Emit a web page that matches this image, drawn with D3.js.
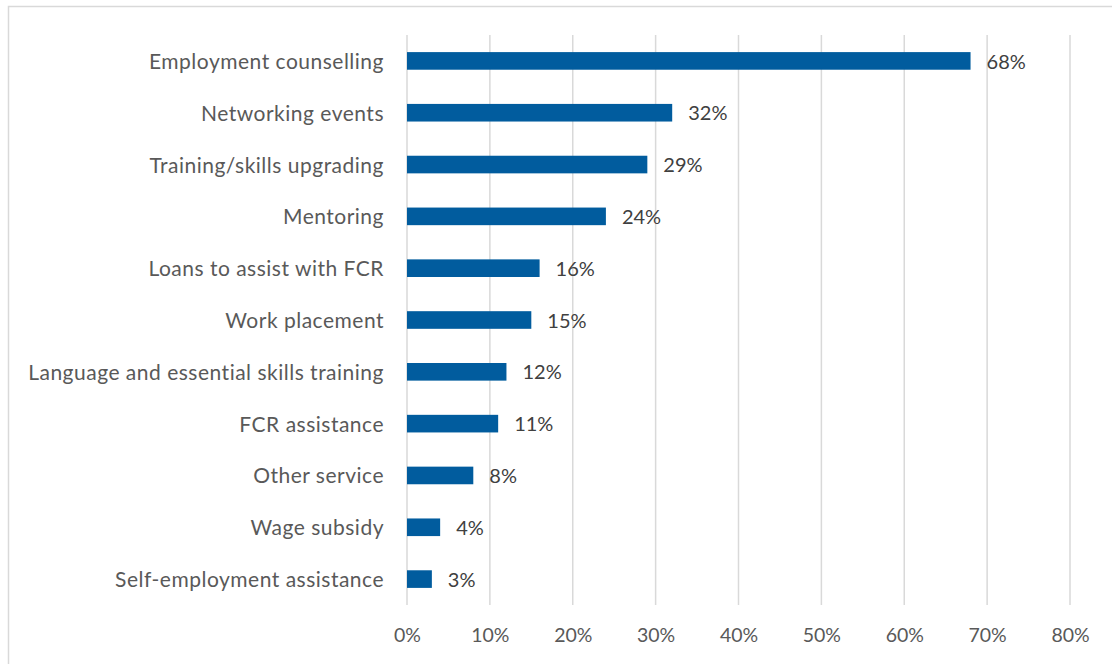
<!DOCTYPE html>
<html>
<head>
<meta charset="utf-8">
<script src="https://cdn.jsdelivr.net/npm/d3@7"></script>
<style>
  html, body { margin: 0; padding: 0; background: #fff; }
  svg { display: block; font-family: Lato, "Open Sans", sans-serif; }
</style>
</head>
<body>
<svg id="chart" width="1112" height="664"></svg>
<script>
// Share of respondents using each service
const categories = [
  "Employment counselling",
  "Networking events",
  "Training/skills upgrading",
  "Mentoring",
  "Loans to assist with FCR",
  "Work placement",
  "Language and essential skills training",
  "FCR assistance",
  "Other service",
  "Wage subsidy",
  "Self-employment assistance"
];
const values = [68, 32, 29, 24, 16, 15, 12, 11, 8, 4, 3];
const tickValues = [0, 10, 20, 30, 40, 50, 60, 70, 80];

const svg = d3.select("#chart");
const plot = { left: 407, right: 1070, top: 35, bottom: 605 };

// Outer frame (runs off the right and bottom edges)
svg.append("rect")
  .attr("x", 8.5).attr("y", 6.5)
  .attr("width", 1120).attr("height", 700)
  .attr("fill", "none").attr("stroke", "#d9d9d9").attr("stroke-width", 1.5);

const x = d3.scaleLinear().domain([0, 80]).range([plot.left, plot.right]);
const y = d3.scaleBand().domain(categories).range([plot.top, plot.bottom]).paddingInner(0.66).paddingOuter(0.33);

// Vertical gridlines
svg.append("g").selectAll("line").data(tickValues).join("line")
  .attr("x1", d => x(d)).attr("x2", d => x(d))
  .attr("y1", plot.top).attr("y2", plot.bottom)
  .attr("stroke", "#d9d9d9").attr("stroke-width", 1.5);

// X axis tick labels
const xAxis = d3.axisBottom(x).tickValues(tickValues).tickFormat(d => d + "%").tickSize(0).tickPadding(0);
const gx = svg.append("g").attr("transform", `translate(0,${plot.bottom + 22})`).call(xAxis);
gx.select(".domain").remove();
gx.selectAll("text").attr("font-size", 19.5).attr("fill", "#595959").attr("font-family", "Lato, sans-serif").attr("dy", "0.78em");

// Y axis category labels
const yAxis = d3.axisLeft(y).tickSize(0).tickPadding(23);
const gy = svg.append("g").attr("transform", `translate(${plot.left},0)`).call(yAxis);
gy.select(".domain").remove();
gy.selectAll("text").attr("font-size", 21).attr("letter-spacing", 0.5).attr("fill", "#595959").attr("font-family", "Lato, sans-serif").attr("dy", "0.38em");

// Bars
svg.append("g").selectAll("rect").data(categories).join("rect")
  .attr("x", x(0))
  .attr("y", d => y(d))
  .attr("width", (d, i) => x(values[i]) - x(0))
  .attr("height", y.bandwidth())
  .attr("fill", "#015c9e");

// Value labels
svg.append("g").selectAll("text").data(categories).join("text")
  .attr("x", (d, i) => x(values[i]) + 16)
  .attr("y", d => y(d) + y.bandwidth() / 2)
  .attr("dy", "0.38em")
  .attr("font-size", 20)
  .attr("fill", "#404040")
  .text((d, i) => values[i] + "%");
</script>
</body>
</html>
